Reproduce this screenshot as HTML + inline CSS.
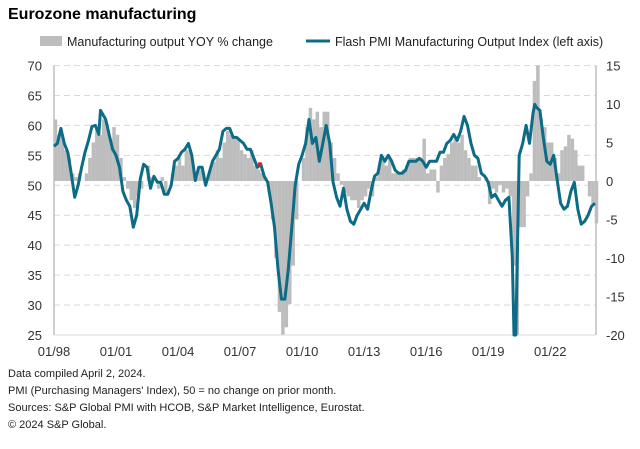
<!DOCTYPE html>
<html><head><meta charset="utf-8"><style>
body{margin:0;background:#fff;font-family:"Liberation Sans",Arial,sans-serif}
svg text{font-family:"Liberation Sans",Arial,sans-serif}
</style></head><body>
<svg id="c" width="640" height="444" viewBox="0 0 640 444" xmlns="http://www.w3.org/2000/svg">
<text x="8" y="19" font-size="16" font-weight="bold" fill="#000">Eurozone manufacturing</text>
<rect x="40" y="36" width="22" height="10" fill="#bdbdbd"/>
<text x="67" y="46" font-size="12.5" fill="#222">Manufacturing output YOY % change</text>
<line x1="306" y1="41" x2="330" y2="41" stroke="#0c6c86" stroke-width="3"/>
<text x="335" y="46" font-size="12.5" fill="#222">Flash PMI Manufacturing Output Index (left axis)</text>
<g id="grid"></g><g id="bars"></g><g id="axes"></g><g id="line"></g>
<text x="8" y="377" font-size="11" fill="#222">Data compiled April 2, 2024.</text>
<text x="8" y="394" font-size="11" fill="#222">PMI (Purchasing Managers' Index), 50 = no change on prior month.</text>
<text x="8" y="411" font-size="11" fill="#222">Sources: S&amp;P Global PMI with HCOB, S&amp;P Market Intelligence, Eurostat.</text>
<text x="8" y="428" font-size="11" fill="#222">© 2024 S&amp;P Global.</text>
</svg>
<script>
const leftTicks=[25,30,35,40,45,50,55,60,65,70];
const rightTicks=[-20,-15,-10,-5,0,5,10,15];
const xTickLabels=["01/98","01/01","01/04","01/07","01/10","01/13","01/16","01/19","01/22"];
const xTickMonths=[0,36,72,108,144,180,216,252,288];
const yoyValues=[8,6,6,4,3,1,0.5,1,0,1,3,5,7,6,8,7,5.5,7,6,3,0.5,-1,-2.5,-3.5,-2,-1,0,2,0.5,0,-1,0.5,-1.5,0,1,2,3,2,4,4,2,0.5,1.5,1,0,1.5,2.5,4,3,5,6.5,6,5.5,5.5,4,3.5,3,4,2,1.5,1,0.5,-1.5,-5,-10,-17,-21,-19,-16,-11,-5,0,3,7,9.5,8,9,7,9,9,5,3,1,-0.5,-1.5,-2,-2.5,-2.5,-3.5,-2.5,-2,-1,-2,0.5,2,3,2,3,1,1,1,1.5,2,3,3,3,3,5.5,1,1.5,1.5,-1.5,2,3,3.5,5,5.5,5,6,4,3,2,2,0.5,0,0.5,-3,-1,-1.5,-0.5,-1.5,-1,-2,-11,-27,-6,-6,-2,1,13,22,8,7,5,5,3,1,4,4.5,6,5.5,4,2,2,0,-2,-3,-5.5];
const pmiMonths=[0,2,4,6,8,10,12,14,16,18,20,22,24,26,27,28,30,32,34,36,38,40,42,44,46,48,50,52,54,56,58,60,62,64,66,68,70,72,74,76,78,80,82,84,86,88,90,92,94,96,98,100,102,104,106,108,110,112,114,116,118,120,122,124,126,128,130,132,134,136,138,140,142,144,146,148,150,152,154,156,158,160,162,164,166,168,170,172,174,176,178,180,182,184,186,188,190,192,194,196,198,200,202,204,206,208,210,212,214,216,218,220,222,224,226,228,230,232,234,236,238,240,242,244,246,248,250,252,254,256,258,260,262,264,266,267,268,269,270,272,274,276,278,279,280,282,284,286,288,290,292,294,296,298,300,302,304,306,308,310,312,314];
const pmiValues=[56.5,57,59.5,57,55.5,52,48,50,53,55.5,57.5,59.8,60,58.5,62.5,62,61,58.5,56,55,53,49,47.5,46.5,43,45,51,53.5,53,49.5,51.5,50.5,50.5,48.5,48.5,50,54,54.5,55.5,56,57,55,50.8,53,53,50,52,54,55,56,59,59.5,59.5,58,58,57.5,57,56,56,54.5,53,53.5,51.5,50.5,47,43,36,31,31,36,43,50,53.5,55,57,61,57,58,54,57,60,57,50.5,48,46.5,49.5,46,44,43.5,45,46,47,46,49,51.5,52,55,54,55,54,52.5,52,52,52.5,54,54,54,54.5,54,53,54,54,54,55.5,55.5,57,57.5,58.5,57.5,59,61.5,60,57,55,54.5,52,51.5,50.5,48,48.5,47.5,46.5,47.5,48,38,11.6,19,40,55,57,60,57,62,63.5,63,62.5,58,54,53.5,55,51,47,46,46.5,49,50.5,46,43.5,44,45,46.5,47];
const NS="http://www.w3.org/2000/svg";
const X0=54,X1=596,Y0=65.5,Y1=335,MPX=1.723;
const xm=m=>X0+m*MPX;
const yl=v=>Y1-(v-25)*(Y1-Y0)/45;
const yr=v=>Y1-(v+20)*(Y1-Y0)/35;
function mk(tag,attrs,parent){const e=document.createElementNS(NS,tag);for(const k in attrs)e.setAttribute(k,attrs[k]);document.getElementById(parent).appendChild(e);return e;}
leftTicks.forEach(v=>{
 if(v!==25){const g=mk('line',{x1:X0,x2:X1,y1:yl(v),y2:yl(v),stroke:'#d9d9d9','stroke-dasharray':'6,4'},'grid');
 
 }
 const t=mk('text',{x:42,y:yl(v)+5,'font-size':13,fill:'#333','text-anchor':'end'},'axes');t.textContent=v;
 
 
});
rightTicks.forEach(v=>{
 const t=mk('text',{x:606,y:yr(v)+5,'font-size':13,fill:'#333'},'axes');t.textContent=v;
 
 
});
xTickLabels.forEach((s,i)=>{
 const t=mk('text',{x:xm(xTickMonths[i]),y:356,'font-size':13,fill:'#333','text-anchor':'middle'},'axes');t.textContent=s;
 
 
});
const ax1=mk('line',{x1:X0,x2:X0,y1:Y0,y2:Y1,stroke:'#bfbfbf','stroke-width':1.5},'axes');


const ax2=mk('line',{x1:X1,x2:X1,y1:Y0,y2:Y1,stroke:'#bfbfbf','stroke-width':1.5},'axes');


const ax3=mk('line',{x1:X0,x2:X1,y1:Y1,y2:Y1,stroke:'#d9d9d9'},'axes');


const clamp=(v,a,b)=>Math.max(a,Math.min(b,v));
yoyValues.forEach((v,i)=>{
 const x=xm(i*2);const y0=yr(0);const y=clamp(yr(v),Y0,Y1);
 const b=mk('rect',{x:x-0.3,y:Math.min(y,y0),width:3.5,height:Math.abs(y-y0),fill:'#bdbdbd'},'bars');
 
 
});
const pts=pmiMonths.map((m,i)=>xm(m).toFixed(1)+','+clamp(yl(pmiValues[i]),Y0,Y1).toFixed(1)).join(' ');
const pl=mk('polyline',{points:pts,fill:'none',stroke:'#0c6c86','stroke-width':3,'stroke-linejoin':'round'},'line');


const dot=mk('rect',{x:xm(119.5)-2,y:yl(53.5)-2,width:4,height:4,fill:'#e02020'},'line');


</script>
</body></html>
